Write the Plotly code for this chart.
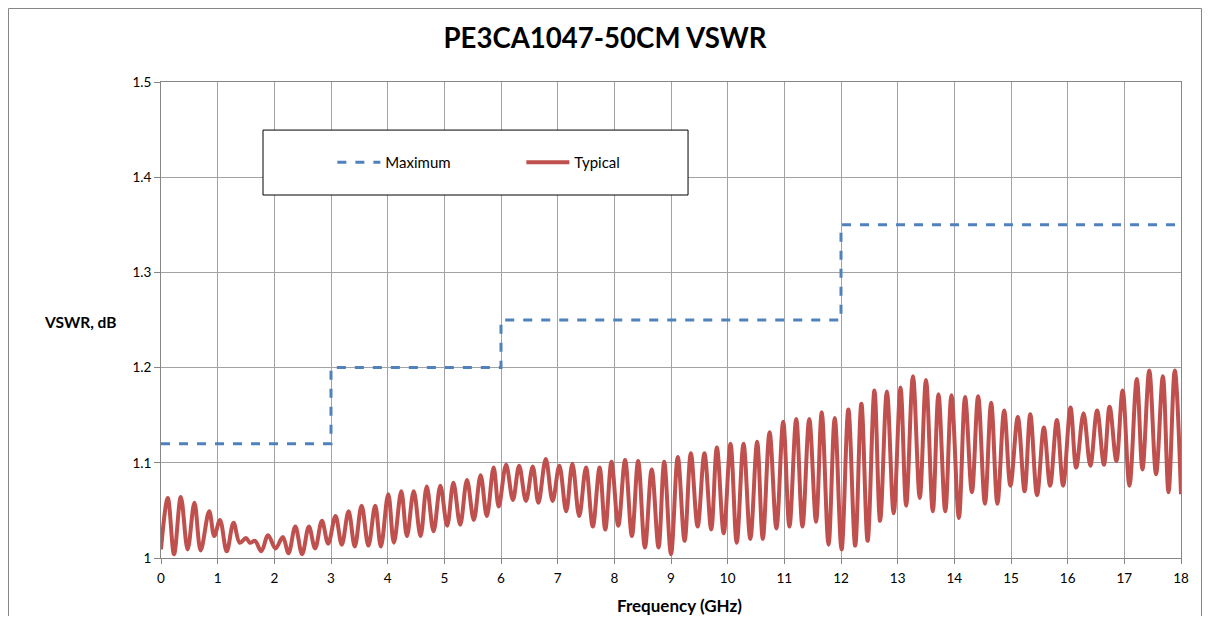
import plotly.graph_objects as go

# ---- data ----
max_freq = [0, 3, 6, 12, 18]
max_vswr = [1.12, 1.20, 1.25, 1.35, 1.35]

typ_freq = [
    0.00, 0.12, 0.23, 0.35, 0.47, 0.59, 0.70, 0.85, 0.94, 1.04,
    1.16, 1.28, 1.39, 1.50, 1.57, 1.66, 1.77, 1.89, 2.02, 2.15,
    2.25, 2.37, 2.49, 2.61, 2.72, 2.84, 2.95, 3.08, 3.19, 3.31,
    3.42, 3.54, 3.66, 3.78, 3.88, 4.01, 4.11, 4.24, 4.34, 4.46,
    4.58, 4.69, 4.81, 4.93, 5.05, 5.16, 5.28, 5.40, 5.52, 5.64,
    5.75, 5.87, 5.96, 6.09, 6.21, 6.32, 6.44, 6.56, 6.66, 6.79,
    6.91, 7.03, 7.15, 7.26, 7.38, 7.50, 7.62, 7.74, 7.84, 7.95,
    8.07, 8.19, 8.31, 8.42, 8.54, 8.66, 8.78, 8.88, 9.00, 9.12,
    9.24, 9.35, 9.47, 9.59, 9.71, 9.81, 9.93, 10.05, 10.16, 10.28,
    10.40, 10.52, 10.62, 10.74, 10.86, 10.98, 11.09, 11.21, 11.32, 11.44,
    11.56, 11.66, 11.78, 11.89, 12.01, 12.13, 12.25, 12.36, 12.47, 12.59,
    12.69, 12.81, 12.93, 13.05, 13.15, 13.27, 13.39, 13.50, 13.62, 13.72,
    13.84, 13.95, 14.08, 14.19, 14.31, 14.42, 14.54, 14.65, 14.76, 14.88,
    14.99, 15.12, 15.24, 15.34, 15.46, 15.58, 15.69, 15.81, 15.92, 16.05,
    16.15, 16.28, 16.40, 16.52, 16.64, 16.74, 16.86, 16.97, 17.09, 17.22,
    17.32, 17.44, 17.56, 17.68, 17.78, 17.89, 18.00,
]
typ_vswr = [
    1.009, 1.063, 1.004, 1.064, 1.009, 1.058, 1.008, 1.049, 1.023, 1.040,
    1.007, 1.037, 1.016, 1.021, 1.016, 1.018, 1.007, 1.024, 1.010, 1.022,
    1.005, 1.033, 1.004, 1.033, 1.010, 1.039, 1.015, 1.044, 1.014, 1.049,
    1.012, 1.055, 1.013, 1.055, 1.012, 1.067, 1.016, 1.070, 1.023, 1.070,
    1.023, 1.075, 1.028, 1.076, 1.034, 1.079, 1.035, 1.082, 1.040, 1.087,
    1.044, 1.095, 1.054, 1.098, 1.061, 1.097, 1.060, 1.096, 1.058, 1.104,
    1.060, 1.097, 1.049, 1.099, 1.044, 1.095, 1.033, 1.095, 1.030, 1.101,
    1.034, 1.103, 1.023, 1.102, 1.011, 1.093, 1.011, 1.101, 1.004, 1.106,
    1.018, 1.110, 1.033, 1.110, 1.030, 1.116, 1.026, 1.120, 1.016, 1.120,
    1.020, 1.122, 1.020, 1.132, 1.031, 1.143, 1.033, 1.146, 1.033, 1.146,
    1.038, 1.153, 1.014, 1.147, 1.009, 1.156, 1.013, 1.162, 1.018, 1.176,
    1.039, 1.175, 1.047, 1.179, 1.055, 1.191, 1.063, 1.187, 1.049, 1.172,
    1.049, 1.171, 1.042, 1.169, 1.069, 1.170, 1.057, 1.163, 1.057, 1.155,
    1.076, 1.148, 1.070, 1.151, 1.066, 1.137, 1.076, 1.145, 1.076, 1.158,
    1.095, 1.152, 1.097, 1.155, 1.098, 1.159, 1.102, 1.176, 1.076, 1.188,
    1.093, 1.197, 1.088, 1.191, 1.069, 1.197, 1.067,
]

x_ticks = list(range(0, 19))
y_ticks = [1, 1.1, 1.2, 1.3, 1.4, 1.5]
y_tick_labels = ["1", "1.1", "1.2", "1.3", "1.4", "1.5"]

FONT = "Lato"
GRID = "#a3a3a3"
AXIS = "#868686"

fig = go.Figure()
fig.add_trace(go.Scatter(
    x=max_freq, y=max_vswr, name="Maximum", mode="lines",
    line=dict(color="#4f81bd", width=3, dash="dash", shape="hv"),
))
fig.add_trace(go.Scatter(
    x=typ_freq, y=typ_vswr, name="Typical", mode="lines",
    line=dict(color="#c0504d", width=4, shape="spline", smoothing=1.0),
))

# chart border (bottom edge falls outside the figure) and legend box
fig.add_shape(type="rect", xref="paper", yref="paper",
              x0=-0.1495, x1=1.0201, y0=-0.25, y1=1.1544,
              line=dict(color=AXIS, width=1), layer="below")
fig.add_shape(type="rect", xref="paper", yref="paper",
              x0=0.1, x1=0.5167, y0=0.7626, y1=0.899,
              line=dict(color="#000000", width=1), fillcolor="white", layer="above")

fig.add_annotation(text="<b>VSWR, dB</b>", xref="paper", yref="paper",
                   x=-0.0422, y=0.4958, xanchor="right", yanchor="middle",
                   showarrow=False, font=dict(family=FONT, size=15.5, color="#000000"))
fig.add_annotation(text="<b>Frequency (GHz)</b>", xref="paper", yref="paper",
                   x=0.5088, y=-0.1008, xanchor="center", yanchor="middle",
                   showarrow=False, font=dict(family=FONT, size=17, color="#000000"))

fig.update_layout(
    width=1194, height=608,
    margin=dict(l=153, r=21, t=74, b=58, autoexpand=False),
    paper_bgcolor="white", plot_bgcolor="white",
    font=dict(family=FONT, size=13, color="#000000"),
    title=dict(text="<b>PE3CA1047-50CM VSWR</b>", x=0.5, xanchor="center",
               y=1 - 30 / 608, yanchor="middle",
               font=dict(family=FONT, size=27.6, color="#000000")),
    showlegend=True,
    legend=dict(orientation="h", x=0.168, y=0.8308, xanchor="left", yanchor="middle",
                bgcolor="rgba(0,0,0,0)", borderwidth=0,
                itemwidth=43,
                entrywidth=131, entrywidthmode="pixels",
                font=dict(family=FONT, size=15, color="#000000")),
    xaxis=dict(range=[0, 18], tickvals=x_ticks, ticktext=[str(v) for v in x_ticks],
               showgrid=True, gridcolor=GRID, gridwidth=1,
               showline=True, linecolor=AXIS, linewidth=1, mirror=True,
               ticks="outside", ticklen=5, tickcolor=AXIS,
               ticklabelstandoff=3, automargin=False,
               zeroline=False, tickfont=dict(size=13.5)),
    yaxis=dict(range=[1, 1.5], tickvals=y_ticks, ticktext=y_tick_labels,
               showgrid=True, gridcolor=GRID, gridwidth=1,
               showline=True, linecolor=AXIS, linewidth=1, mirror=True,
               ticks="outside", ticklen=6, tickcolor=AXIS, automargin=False,
               zeroline=False, tickfont=dict(size=13.5)),
)

fig.write_html("out.html")
